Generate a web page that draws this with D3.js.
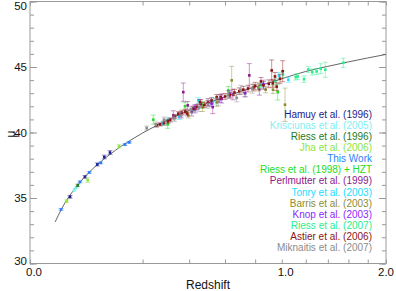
<!DOCTYPE html>
<html>
<head>
<meta charset="utf-8">
<script src="https://cdn.jsdelivr.net/npm/d3@7"></script>
<style>
  body { margin: 0; background: #fff; }
  svg { display: block; font-family: "Liberation Sans", Helvetica, Arial, sans-serif; }
</style>
</head>
<body>
<svg id="chart" width="396" height="291"></svg>
<script>
// model curve
var curveZ  = [0.01, 0.015, 0.02, 0.03, 0.04, 0.05, 0.07, 0.1, 0.13, 0.16, 0.2, 0.25, 0.3, 0.4, 0.5, 0.6, 0.7, 0.8, 0.9, 1.0, 1.2, 1.4, 1.6, 1.8, 2.0];
var curveMu = [33.17, 34.06, 34.70, 35.59, 36.24, 36.74, 37.50, 38.31, 38.93, 39.42, 39.96, 40.50, 40.96, 41.69, 42.26, 42.73, 43.13, 43.48, 43.78, 44.10, 44.66, 45.05, 45.39, 45.69, 45.96];

// [z, mu, error] per survey
var hamuy = [[0.0253, 35.09, 0.10], [0.0477, 36.61, 0.10], [0.0715, 37.56, 0.12], [0.0871, 38.13, 0.14], [0.101, 38.47, 0.15]];
var krisciunas = [[0.031, 35.60, 0.08], [0.0335, 35.78, 0.08]];
var riess96 = [[0.0359, 35.96, 0.10]];
var jha = [[0.0213, 34.76, 0.10], [0.0525, 36.36, 0.18], [0.125, 38.95, 0.14]];
var thisWork = [[0.0152, 34.13, 0.07], [0.0394, 36.23, 0.07], [0.0555, 36.95, 0.07], [0.0789, 37.68, 0.07], [0.1424, 39.08, 0.07], [0.1556, 39.25, 0.07]];
var riess98 = [[0.2399, 40.98, 0.35], [0.2992, 40.62, 0.30], [0.3791, 42.00, 0.30], [0.6205, 43.21, 0.30], [0.9682, 43.08, 0.60], [0.47, 42.10, 0.25]];
var perlmutter = [[0.324, 41.31, 0.35], [0.3708, 43.08, 0.70], [0.3925, 42.07, 0.30], [0.4126, 41.56, 0.30], [0.5267, 41.94, 0.50], [0.759, 44.36, 0.90], [0.46, 42.20, 0.30], [0.43, 41.80, 0.30], [0.50, 42.30, 0.30], [0.58, 42.60, 0.35], [0.65, 42.90, 0.40], [0.83, 43.30, 0.45]];
var tonry = [[0.2779, 40.68, 0.15], [0.447, 42.45, 0.20], [0.9784, 44.33, 0.25], [1.053, 44.03, 0.20], [0.42, 41.75, 0.20], [0.53, 42.40, 0.25], [0.30, 40.95, 0.20], [0.35, 41.20, 0.20]];
var barris = [[0.3955, 41.31, 0.20], [0.642, 43.98, 1.07], [0.8225, 43.42, 0.25], [0.8767, 43.27, 0.25], [0.9319, 43.27, 0.30], [1.0262, 42.12, 1.27], [0.55, 42.30, 0.30], [0.47, 41.95, 0.35], [0.73, 43.00, 0.30]];
var knop = [[0.43, 41.90, 0.20], [0.52, 42.20, 0.20], [0.57, 42.55, 0.25], [0.73, 43.00, 0.25], [0.86, 43.70, 0.30], [0.36, 41.35, 0.20], [0.63, 42.95, 0.25]];
var riess07 = [[1.0101, 44.43, 0.25], [1.114, 44.23, 0.22], [1.131, 44.28, 0.22], [1.185, 44.07, 0.25], [1.222, 44.81, 0.22], [1.2577, 44.61, 0.23], [1.297, 44.66, 0.23], [1.3336, 44.87, 0.38], [1.376, 44.79, 0.58], [1.549, 45.32, 0.35], [0.84, 43.60, 0.20], [0.95, 43.90, 0.25]];
var astier = [[0.2533, 40.55, 0.12], [0.2667, 40.62, 0.12], [0.2833, 40.72, 0.15], [0.3318, 41.23, 0.15], [0.3471, 41.44, 0.15], [0.3631, 41.52, 0.18], [0.4208, 41.82, 0.18], [0.456, 42.32, 0.20], [0.55, 42.70, 0.20], [0.5739, 42.70, 0.20], [0.6913, 43.16, 0.25], [0.718, 43.27, 0.25], [0.787, 43.42, 0.25], [0.842, 43.90, 0.30], [0.9218, 44.74, 0.80], [1.0076, 44.68, 0.80], [0.9472, 44.28, 0.30], [0.9863, 44.10, 0.35], [0.90, 43.72, 0.30], [0.30, 40.85, 0.15], [0.31, 40.95, 0.15], [0.38, 41.60, 0.18], [0.39, 41.45, 0.18], [0.44, 41.95, 0.20], [0.48, 42.10, 0.20], [0.50, 42.25, 0.20], [0.52, 42.45, 0.20], [0.60, 42.75, 0.22], [0.63, 42.85, 0.22], [0.66, 43.05, 0.25], [0.75, 43.35, 0.25], [0.80, 43.55, 0.28], [0.86, 43.60, 0.30], [0.93, 43.75, 0.30], [0.96, 43.50, 0.30]];
var miknaitis = [[0.2149, 40.34, 0.15], [0.2833, 40.98, 0.20], [0.25, 40.60, 0.20], [0.33, 41.10, 0.25], [0.36, 41.30, 0.25], [0.41, 41.75, 0.25], [0.45, 41.90, 0.30], [0.50, 42.15, 0.30], [0.56, 42.35, 0.30], [0.674, 42.64, 0.30], [0.62, 42.90, 0.30], [0.70, 43.25, 0.35], [0.78, 43.35, 0.35]];

var surveyNames = ['Hamuy et al. (1996)', 'Krisciunas et al. (2005)', 'Riess et al. (1996)', 'Jha et al. (2006)', 'This Work', 'Riess et al. (1998) + HZT', 'Perlmutter et al. (1999)', 'Tonry et al. (2003)', 'Barris et al. (2003)', 'Knop et al. (2003)', 'Riess et al. (2007)', 'Astier et al. (2006)', 'Miknaitis et al. (2007)'];
var surveyData = [hamuy, krisciunas, riess96, jha, thisWork, riess98, perlmutter, tonry, barris, knop, riess07, astier, miknaitis];
var surveyColors = ['#1c1c8c', '#7ff0f2', '#1e7a1e', '#8ce63c', '#2a7fff', '#22dd22', '#8c1a8c', '#22ddff', '#8c8c32', '#8c28ff', '#28f08c', '#8c1414', '#8c8c8c'];

var xTicks = [0, 0.2, 0.4, 0.6, 0.8, 1.0, 1.2, 1.4, 1.6, 1.8, 2.0];
var xLabelVals = [0, 1, 2];
var xLabels = ['0.0', '1.0', '2.0'];
var yMinor = d3.range(30, 51, 1);
var yMajor = [30, 35, 40, 45, 50];

var margin = { left: 30, right: 10, top: 1.5, bottom: 27.5 };
var width = 396, height = 291;

var svg = d3.select('#chart');

var x = d3.scaleSqrt().domain([0, 2]).range([margin.left, width - margin.right]);
var y = d3.scaleLinear().domain([30, 50]).range([height - margin.bottom, margin.top]);

var axisColor = '#999';

// frame
svg.append('rect')
  .attr('x', x(0)).attr('y', y(50))
  .attr('width', x(2) - x(0)).attr('height', y(30) - y(50))
  .attr('fill', 'none').attr('stroke', axisColor).attr('stroke-width', 1);

function styleAxis(g) {
  g.select('.domain').remove();
  g.selectAll('line').attr('stroke', axisColor);
  g.selectAll('text').remove();
}

// inward ticks on all four sides
svg.append('g').attr('transform', 'translate(0,' + y(30) + ')')
  .call(d3.axisBottom(x).tickValues(xTicks).tickSize(-4).tickSizeOuter(0)).call(styleAxis);
svg.append('g').attr('transform', 'translate(0,' + y(50) + ')')
  .call(d3.axisTop(x).tickValues(xTicks).tickSize(-4).tickSizeOuter(0)).call(styleAxis);
svg.append('g').attr('transform', 'translate(' + x(0) + ',0)')
  .call(d3.axisLeft(y).tickValues(yMinor).tickSize(-4).tickSizeOuter(0)).call(styleAxis);
svg.append('g').attr('transform', 'translate(' + x(0) + ',0)')
  .call(d3.axisLeft(y).tickValues(yMajor).tickSize(-7).tickSizeOuter(0)).call(styleAxis);
svg.append('g').attr('transform', 'translate(' + x(2) + ',0)')
  .call(d3.axisRight(y).tickValues(yMinor).tickSize(-4).tickSizeOuter(0)).call(styleAxis);
svg.append('g').attr('transform', 'translate(' + x(2) + ',0)')
  .call(d3.axisRight(y).tickValues(yMajor).tickSize(-7).tickSizeOuter(0)).call(styleAxis);

// tick labels
svg.append('g').selectAll('text').data(yMajor).enter().append('text')
  .attr('x', 27).attr('y', function (d) { return Math.max(6, Math.min(260.5, y(d))); })
  .attr('dy', '0.36em').attr('text-anchor', 'end')
  .attr('font-size', 11.5).attr('fill', '#111')
  .text(function (d) { return d; });

svg.append('g').selectAll('text').data(xLabelVals).enter().append('text')
  .attr('x', function (d) { return Math.min(x(d) + 4, width - 10); }).attr('y', 276)
  .attr('text-anchor', 'middle')
  .attr('font-size', 11.5).attr('fill', '#111')
  .text(function (d, i) { return xLabels[i]; });

// axis titles
svg.append('text').attr('x', (x(0) + x(2)) / 2).attr('y', 289)
  .attr('text-anchor', 'middle').attr('font-size', 12).attr('fill', '#111')
  .text('Redshift');
svg.append('text').attr('transform', 'translate(15,134) rotate(-90)')
  .attr('text-anchor', 'middle').attr('font-size', 12).attr('fill', '#111')
  .text('μ');

// model curve
var line = d3.line()
  .x(function (d, i) { return x(curveZ[i]); })
  .y(function (d) { return y(d); })
  .curve(d3.curveMonotoneX);
svg.append('path').datum(curveMu)
  .attr('d', line).attr('fill', 'none')
  .attr('stroke', '#666').attr('stroke-width', 1);

// data points with error bars
surveyData.forEach(function (data, k) {
  var col = surveyColors[k];
  var g = svg.append('g');
  var eb = g.selectAll('.eb').data(data).enter().append('g')
    .attr('stroke', col).attr('stroke-opacity', 0.45).attr('stroke-width', 1);
  eb.append('line')
    .attr('x1', function (d) { return x(d[0]); }).attr('x2', function (d) { return x(d[0]); })
    .attr('y1', function (d) { return y(d[1] - d[2]); }).attr('y2', function (d) { return y(d[1] + d[2]); });
  eb.append('line')
    .attr('x1', function (d) { return x(d[0]) - 2.5; }).attr('x2', function (d) { return x(d[0]) + 2.5; })
    .attr('y1', function (d) { return y(d[1] - d[2]); }).attr('y2', function (d) { return y(d[1] - d[2]); });
  eb.append('line')
    .attr('x1', function (d) { return x(d[0]) - 2.5; }).attr('x2', function (d) { return x(d[0]) + 2.5; })
    .attr('y1', function (d) { return y(d[1] + d[2]); }).attr('y2', function (d) { return y(d[1] + d[2]); });
  g.selectAll('.pt').data(data).enter().append('rect')
    .attr('x', function (d) { return x(d[0]) - 1.3; })
    .attr('y', function (d) { return y(d[1]) - 1.3; })
    .attr('width', 2.6).attr('height', 2.6)
    .attr('fill', col);
});

// legend
svg.append('g').selectAll('text').data(surveyNames).enter().append('text')
  .attr('x', 372).attr('y', function (d, i) { return 114 + i * 11.15; })
  .attr('dy', '0.35em').attr('text-anchor', 'end')
  .attr('font-size', 10).attr('fill', function (d, i) { return surveyColors[i]; })
  .text(function (d) { return d; });
</script>
</body>
</html>
